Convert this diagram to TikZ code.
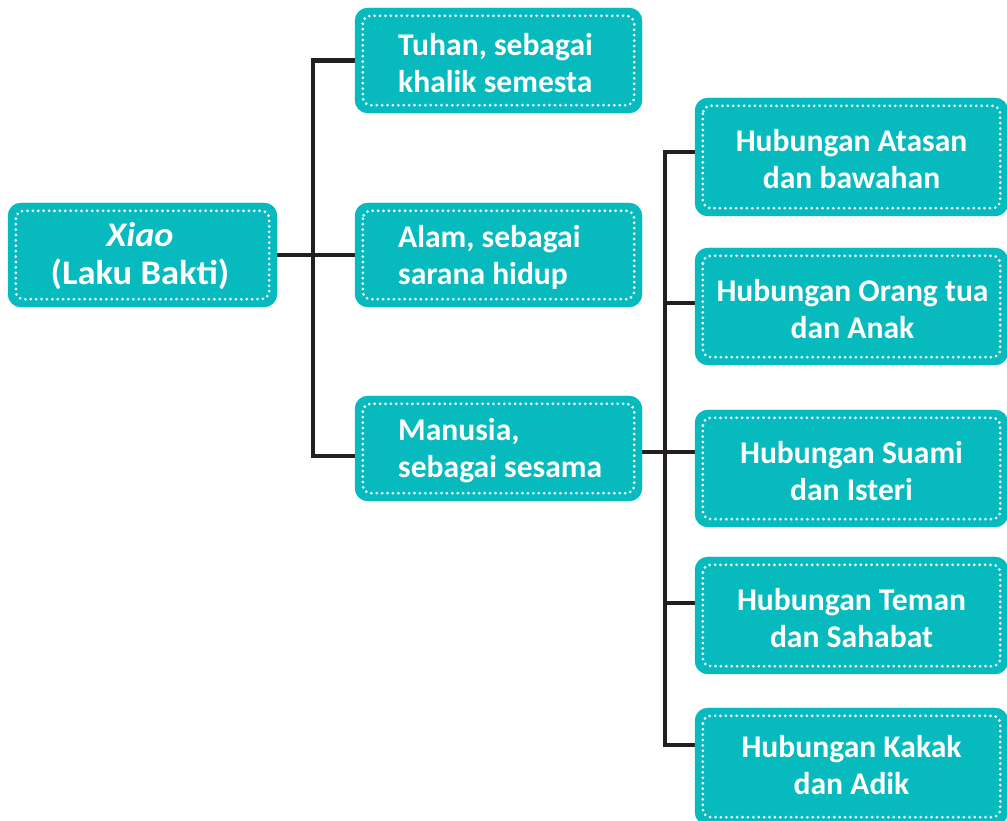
\documentclass[tikz,border=0pt]{standalone}
\usepackage{fontspec}
\setmainfont{Carlito}
\definecolor{teal1}{RGB}{6,186,190}
\definecolor{linecol}{RGB}{35,31,32}
\tikzset{
  box/.style={fill=teal1, rounded corners=13pt, inner sep=0pt, draw=none},
  dotb/.style={draw=white, line width=3pt, dash pattern=on 0pt off 5.4pt, line cap=round, rounded corners=8pt},
  conn/.style={draw=linecol, line width=4.6pt},
  txt/.style={text=white, font=\fontsize{31.6}{37}\selectfont\bfseries, inner sep=0pt},
  bigtxt/.style={text=white, font=\fontsize{34.5}{38}\selectfont\bfseries, inner sep=0pt},
}
\newcommand{\inner}[1]{\draw[dotb] ([xshift=8pt,yshift=-8pt]#1.north west) rectangle ([xshift=-8pt,yshift=8pt]#1.south east);}
\begin{document}
\begin{tikzpicture}[x=1pt,y=1pt]
\useasboundingbox (0,0) rectangle (1007,821);
\clip (0,0) rectangle (1007,821);
% boxes (shapes)
\node[box, minimum width=269pt, minimum height=104pt] (xiao) at (142.5,566) {};
\node[box, minimum width=287pt, minimum height=105pt] (tuhan) at (498.5,760.5) {};
\node[box, minimum width=287pt, minimum height=104pt] (alam) at (498.5,566) {};
\node[box, minimum width=287pt, minimum height=105pt] (manusia) at (498.5,372.5) {};
\node[box, minimum width=313pt, minimum height=118pt] (atasan) at (851.5,664) {};
\node[box, minimum width=313pt, minimum height=117pt] (orang) at (851.5,514.5) {};
\node[box, minimum width=313pt, minimum height=117pt] (suami) at (851.5,352.5) {};
\node[box, minimum width=313pt, minimum height=117pt] (teman) at (851.5,205.5) {};
\node[box, minimum width=313pt, minimum height=117pt] (kakak) at (851.5,54.5) {};
% connectors
\draw[conn] (xiao.east) -- (alam.west);
\draw[conn] (tuhan.west) -- ++(-42,0) |- ([yshift=-7.5pt]manusia.west);
\draw[conn] ([yshift=-3.5pt]manusia.east) -- ([yshift=16.5pt]suami.west);
\draw[conn] ([yshift=5pt]atasan.west) -- ++(-30,0) |- ([yshift=21.5pt]kakak.west);
\draw[conn] ([yshift=3.5pt]orang.west) -- ++(-32,0);
\draw[conn] ([yshift=12.5pt]teman.west) -- ++(-32,0);
% redraw boxes over connector ends
\foreach \n in {xiao,tuhan,alam,manusia,atasan,orang,suami,teman,kakak}{
  \fill[teal1, rounded corners=13pt] (\n.north west) rectangle (\n.south east);
  \inner{\n}
}
% texts
\node[bigtxt, align=center] (t-xiao) at (140,565) {\scalebox{1.05}[1]{\itshape Xiao}\\\scalebox{1.06}[1]{(Laku Bakti)}};
\node[txt, align=left, anchor=west] (t-tuhan) at (398,758) {Tuhan, sebagai\\khalik semesta};
\node[txt, align=left, anchor=west] (t-alam) at (398,564) {Alam, sebagai\\sarana hidup};
\node[txt, align=left, anchor=west] (t-manusia) at (398,370) {Manusia,\\sebagai sesama};
\node[txt, align=center] (t-atasan) at (851.5,662) {Hubungan Atasan\\dan bawahan};
\node[txt, align=center] (t-orang) at (852.5,512) {Hubungan Orang tua\\dan Anak};
\node[txt, align=center] (t-suami) at (851.5,350) {Hubungan Suami\\dan Isteri};
\node[txt, align=center] (t-teman) at (851.5,203) {Hubungan Teman\\dan Sahabat};
\node[txt, align=center] (t-kakak) at (851.5,56) {Hubungan Kakak\\dan Adik};
\end{tikzpicture}
\end{document}
